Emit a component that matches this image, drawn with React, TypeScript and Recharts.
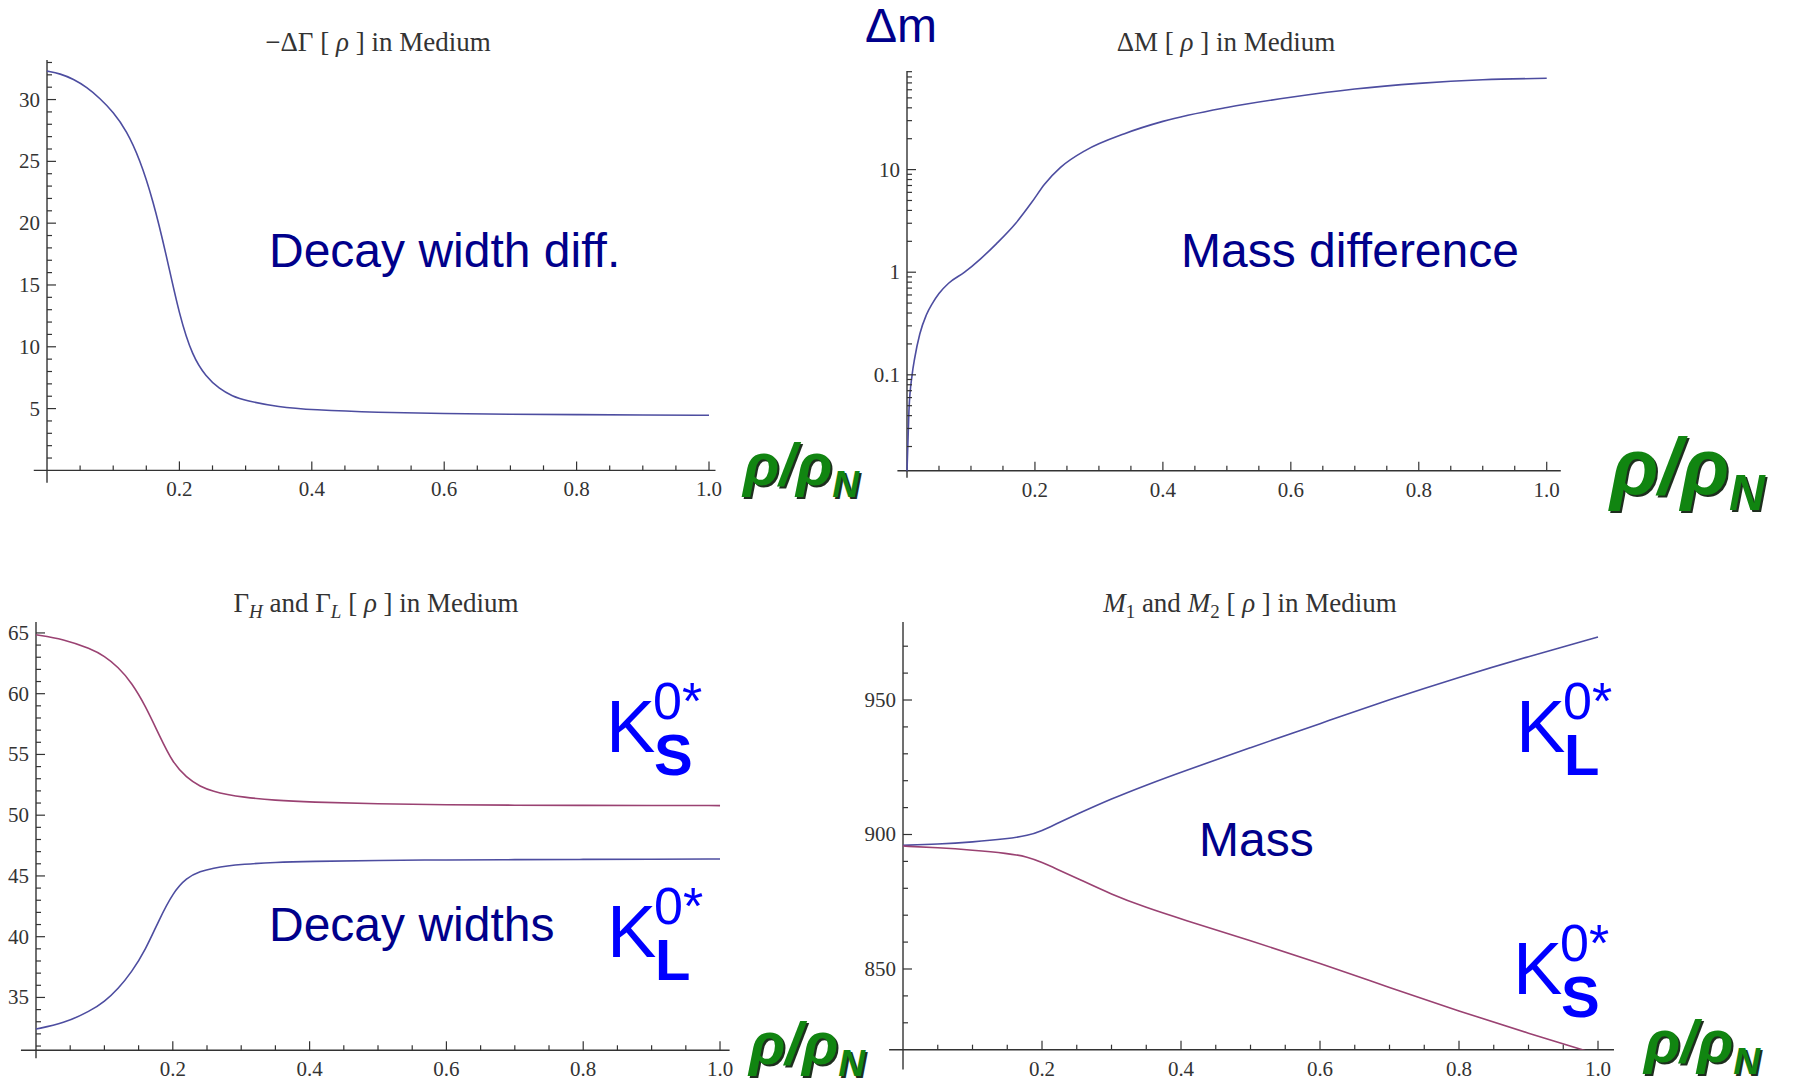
import { LineChart, Line, XAxis, YAxis, ReferenceLine } from "recharts"

// shared density axis ticks (0.05 minor, 0.2 major)
const rhoTicks = [0.05, 0.1, 0.15, 0.2, 0.25, 0.3, 0.35, 0.4, 0.45, 0.5, 0.55, 0.6, 0.65, 0.7, 0.75, 0.8, 0.85, 0.9, 0.95, 1.0]

// -ΔΓ[ρ] in medium
const widthDiffRho = [0, 0.02, 0.04, 0.06, 0.08, 0.1, 0.12, 0.14, 0.16, 0.18, 0.2, 0.22, 0.24, 0.26, 0.28, 0.3, 0.35, 0.4, 0.5, 0.6, 0.7, 0.8, 0.9, 1.0]
const widthDiff = [32.3, 32.1, 31.65, 31.0, 30.1, 29.0, 27.5, 25.2, 21.9, 17.5, 12.5, 9.2, 7.6, 6.6, 6.0, 5.65, 5.12, 4.9, 4.68, 4.59, 4.54, 4.51, 4.48, 4.46]
const widthDiffTicks = [1, 2, 3, 4, 5, 6, 7, 8, 9, 10, 11, 12, 13, 14, 15, 16, 17, 18, 19, 20, 21, 22, 23, 24, 25, 26, 27, 28, 29, 30, 31, 32, 33]

// ΔM[ρ] in medium (log axis)
const massDiffRho = [0, 0.003, 0.008, 0.012, 0.02, 0.03, 0.04, 0.05, 0.065, 0.09, 0.115, 0.14, 0.17, 0.195, 0.215, 0.24, 0.28, 0.34, 0.4, 0.5, 0.6, 0.7, 0.8, 0.9, 1.0]
const massDiff = [0.0116, 0.044, 0.1, 0.145, 0.25, 0.38, 0.5, 0.62, 0.78, 1.0, 1.35, 1.9, 3.0, 4.8, 7.2, 10.5, 15.5, 22.4, 29.5, 40.3, 50.7, 61, 69.2, 75, 77.6]
const massDiffTicks = [0.02, 0.03, 0.04, 0.05, 0.06, 0.07, 0.08, 0.09, 0.1, 0.2, 0.3, 0.4, 0.5, 0.6, 0.7, 0.8, 0.9, 1, 2, 3, 4, 5, 6, 7, 8, 9, 10, 20, 30, 40, 50, 60, 70, 80, 90]

// Γ_H and Γ_L[ρ] in medium
const widthRho = [0, 0.04, 0.08, 0.1, 0.12, 0.14, 0.16, 0.18, 0.2, 0.22, 0.24, 0.26, 0.28, 0.3, 0.35, 0.4, 0.5, 0.6, 0.7, 0.8, 0.9, 1.0]
const widthKS = [64.85, 64.5, 63.7, 63.1, 62.2, 60.9, 59.0, 56.6, 54.3, 53.1, 52.35, 51.95, 51.7, 51.5, 51.22, 51.08, 50.93, 50.85, 50.82, 50.81, 50.8, 50.79]
const widthKL = [32.4, 32.85, 33.9, 34.65, 35.7, 37.1, 38.9, 41.4, 43.6, 44.85, 45.38, 45.65, 45.83, 45.95, 46.13, 46.2, 46.28, 46.32, 46.34, 46.36, 46.38, 46.39]
const widthTicks = [31, 32, 33, 34, 35, 36, 37, 38, 39, 40, 41, 42, 43, 44, 45, 46, 47, 48, 49, 50, 51, 52, 53, 54, 55, 56, 57, 58, 59, 60, 61, 62, 63, 64, 65]

// M_1 and M_2[ρ] in medium
const massRho = [0, 0.05, 0.1, 0.15, 0.18, 0.2, 0.22, 0.25, 0.3, 0.35, 0.4, 0.5, 0.6, 0.7, 0.8, 0.9, 1.0]
const massKL = [896.0, 896.4, 897.2, 898.4, 899.6, 901.4, 903.9, 907.5, 913.3, 918.4, 923.2, 932.3, 941.2, 950.2, 958.5, 966.2, 973.4]
const massKS = [895.7, 895.1, 894.2, 893.0, 891.7, 889.6, 887.3, 883.8, 877.7, 872.8, 868.6, 860.6, 852.1, 843.1, 834.3, 826.1, 818.2]
const massTicks = [830, 840, 850, 860, 870, 880, 890, 900, 910, 920, 930, 940, 950, 960, 970]

const widthDiffData = widthDiffRho.map((r, i) => ({ rho: r, v: widthDiff[i] }))
const massDiffData = massDiffRho.map((r, i) => ({ rho: r, v: massDiff[i] }))
const widthData = widthRho.map((r, i) => ({ rho: r, ks: widthKS[i], kl: widthKL[i] }))
const massData = massRho.map((r, i) => ({ rho: r, kl: massKL[i], ks: massKS[i] }))

const AXIS = "#333"
const LABEL = "#333"
const BLUE = "#4d4da0"
const RED = "#9a4272"
const serif = "'Liberation Serif', 'Times New Roman', serif"
const sans = "'Liberation Sans', Arial, sans-serif"

const Y_W = 60
const X_H = 50
const PAD = 10

type Box = { l: number; t: number; w: number; h: number }

function Frame({ box, data, children }: { box: Box; data: any[]; children: any }) {
  return (
    <div style={{ position: "absolute", left: box.l - Y_W, top: box.t - PAD }}>
      <LineChart
        width={box.w + Y_W + PAD}
        height={box.h + PAD + X_H}
        data={data}
        margin={{ top: PAD, right: PAD, bottom: 0, left: 0 }}
      >
        {children}
      </LineChart>
    </div>
  )
}

function xTick(p: any) {
  const v = p.payload.value
  const major = Math.abs(v * 5 - Math.round(v * 5)) < 1e-6
  return (
    <g>
      <line x1={p.x} x2={p.x} y1={p.y} y2={p.y - (major ? 9 : 5)} stroke={AXIS} strokeWidth={1.2} />
      {major && (
        <text x={p.x} y={p.y + 26} textAnchor="middle" fontFamily={serif} fontSize={21} fill={LABEL}>
          {v.toFixed(1)}
        </text>
      )}
    </g>
  )
}

function yTick(isMajor: (v: number) => boolean) {
  return (p: any) => {
    const v = p.payload.value
    const major = isMajor(v)
    return (
      <g>
        <line x1={p.x} x2={p.x + (major ? 9 : 5)} y1={p.y} y2={p.y} stroke={AXIS} strokeWidth={1.2} />
        {major && (
          <text x={p.x - 7} y={p.y + 7} textAnchor="end" fontFamily={serif} fontSize={21} fill={LABEL}>
            {String(v)}
          </text>
        )}
      </g>
    )
  }
}

function xAxisProps(max: number) {
  return {
    type: "number" as const,
    dataKey: "rho",
    domain: [0, max],
    ticks: rhoTicks,
    interval: 0,
    tick: xTick,
    axisLine: false,
    tickLine: false,
    tickSize: 0,
    tickMargin: 0,
    height: X_H,
  }
}

function Axes({ xMin, xMax, yLow, yAxisBottom, yTop }: { xMin: number; xMax: number; yLow: number; yAxisBottom: number; yTop: number }) {
  return (
    <>
      <ReferenceLine segment={[{ x: xMin, y: yLow }, { x: xMax, y: yLow }]} stroke={AXIS} strokeWidth={1.4} ifOverflow="visible" />
      <ReferenceLine segment={[{ x: 0, y: yAxisBottom }, { x: 0, y: yTop }]} stroke={AXIS} strokeWidth={1.4} ifOverflow="visible" />
    </>
  )
}

function KLabel({ x, y, sub }: { x: number; y: number; sub: string }) {
  return (
    <g fill="#0000ff" fontFamily={sans}>
      <text x={x} y={y} fontSize={74}>K</text>
      <text x={x + 47} y={y - 33} fontSize={52}>0*</text>
      <text x={x + 48} y={y + 23} fontSize={58} fontWeight="bold">{sub}</text>
    </g>
  )
}

function RhoLabel({ x, y, size }: { x: number; y: number; size: number }) {
  const body = (
    <>
      {"ρ/ρ"}
      <tspan fontSize={size * 0.62} dy={size * 0.2}>N</tspan>
    </>
  )
  return (
    <g fontFamily={sans} fontStyle="italic" fontWeight="bold" fontSize={size}>
      <text x={x + 2} y={y + 2} fill="#1e2e1e">{body}</text>
      <text x={x} y={y} fill="#118511">{body}</text>
    </g>
  )
}

const p1: Box = { l: 47, t: 60.4, w: 668.5, h: 410.4 }
const p2: Box = { l: 907, t: 71, w: 653.8, h: 399.8 }
const p3: Box = { l: 36, t: 621.7, w: 693.6, h: 428.3 }
const p4: Box = { l: 903, t: 621.8, w: 711, h: 427.7 }

export default function App() {
  return (
    <div style={{ position: "absolute", left: 0, top: 0, width: 1797, height: 1083, background: "#fff", overflow: "hidden" }}>
      <Frame box={p1} data={widthDiffData}>
        <XAxis {...xAxisProps(1.0098)} />
        <YAxis type="number" domain={[0, 33.2]} ticks={widthDiffTicks} interval={0} tick={yTick((v) => v % 5 === 0)}
          axisLine={false} tickLine={false} tickSize={0} tickMargin={0} width={Y_W} />
        <Axes xMin={-0.02} xMax={1.0098} yLow={0} yAxisBottom={-1} yTop={33.2} />
        <Line type="basis" dataKey="v" stroke={BLUE} strokeWidth={1.6} dot={false} isAnimationActive={false} />
      </Frame>

      <Frame box={p2} data={massDiffData}>
        <XAxis {...xAxisProps(1.022)} />
        <YAxis type="number" scale="log" domain={[0.0116, 91.4]} ticks={massDiffTicks} interval={0}
          tick={yTick((v) => Math.abs(Math.log10(v) - Math.round(Math.log10(v))) < 1e-9)}
          axisLine={false} tickLine={false} tickSize={0} tickMargin={0} width={Y_W} />
        <Axes xMin={-0.015} xMax={1.022} yLow={0.0116} yAxisBottom={0.0099} yTop={91.4} />
        <Line type="monotone" dataKey="v" stroke={BLUE} strokeWidth={1.6} dot={false} isAnimationActive={false} />
      </Frame>

      <Frame box={p3} data={widthData}>
        <XAxis {...xAxisProps(1.014)} />
        <YAxis type="number" domain={[30.65, 65.9]} ticks={widthTicks} interval={0} tick={yTick((v) => v % 5 === 0)}
          axisLine={false} tickLine={false} tickSize={0} tickMargin={0} width={Y_W} />
        <Axes xMin={-0.022} xMax={1.014} yLow={30.65} yAxisBottom={30.0} yTop={65.9} />
        <Line type="basis" dataKey="ks" stroke={RED} strokeWidth={1.6} dot={false} isAnimationActive={false} />
        <Line type="basis" dataKey="kl" stroke={BLUE} strokeWidth={1.6} dot={false} isAnimationActive={false} />
      </Frame>

      <Frame box={p4} data={massData}>
        <XAxis {...xAxisProps(1.023)} />
        <YAxis type="number" domain={[820, 979]} allowDataOverflow ticks={massTicks} interval={0} tick={yTick((v) => v % 50 === 0)}
          axisLine={false} tickLine={false} tickSize={0} tickMargin={0} width={Y_W} />
        <Axes xMin={-0.02} xMax={1.023} yLow={820} yAxisBottom={812.6} yTop={979} />
        <Line type="basis" dataKey="kl" stroke={BLUE} strokeWidth={1.6} dot={false} isAnimationActive={false} />
        <Line type="basis" dataKey="ks" stroke={RED} strokeWidth={1.6} dot={false} isAnimationActive={false} />
      </Frame>

      <svg width={1797} height={1083} style={{ position: "absolute", left: 0, top: 0, pointerEvents: "none" }}>
        <g fontFamily={serif} fontSize={27} fill={LABEL} textAnchor="middle">
          <text x={378} y={51}>
            {"−ΔΓ [ "}<tspan fontStyle="italic">ρ</tspan>{" ] in Medium"}
          </text>
          <text x={1226} y={51}>
            {"ΔM [ "}<tspan fontStyle="italic">ρ</tspan>{" ] in Medium"}
          </text>
          <text x={376} y={612}>
            {"Γ"}<tspan fontStyle="italic" fontSize={19} dy={6}>H</tspan>
            <tspan dy={-6}>{" and Γ"}</tspan>
            <tspan fontStyle="italic" fontSize={19} dy={6}>L</tspan>
            <tspan dy={-6}>{" [ "}</tspan><tspan fontStyle="italic">ρ</tspan><tspan>{" ] in Medium"}</tspan>
          </text>
          <text x={1250} y={612}>
            <tspan fontStyle="italic">M</tspan><tspan fontSize={19} dy={6}>1</tspan>
            <tspan dy={-6}>{" and "}</tspan>
            <tspan fontStyle="italic">M</tspan><tspan fontSize={19} dy={6}>2</tspan>
            <tspan dy={-6}>{" [ "}</tspan><tspan fontStyle="italic">ρ</tspan><tspan>{" ] in Medium"}</tspan>
          </text>
        </g>

        <g fontFamily={sans} fill="#00008b" fontSize={48}>
          <text x={269} y={267}>Decay width diff.</text>
          <text x={865} y={42}>Δm</text>
          <text x={1181} y={267}>Mass difference</text>
          <text x={269} y={941}>Decay widths</text>
          <text x={1199} y={856}>Mass</text>
        </g>

        <KLabel x={606} y={752} sub="S" />
        <KLabel x={607} y={957} sub="L" />
        <KLabel x={1516} y={752} sub="L" />
        <KLabel x={1513} y={994} sub="S" />

        <RhoLabel x={743} y={485} size={60} />
        <RhoLabel x={1610} y={494} size={80} />
        <RhoLabel x={749} y={1064} size={60} />
        <RhoLabel x={1644} y={1062} size={60} />
      </svg>
    </div>
  )
}
